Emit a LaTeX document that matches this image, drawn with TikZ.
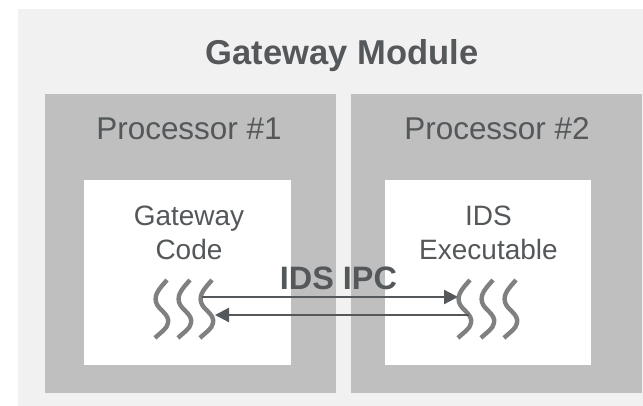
\documentclass[tikz,border=0pt]{standalone}
\usepackage{fontspec}
\setmainfont{Liberation Sans}
\usetikzlibrary{arrows.meta}
\definecolor{moduleback}{HTML}{F1F1F1}
\definecolor{procback}{HTML}{BFBFBF}
\definecolor{labeltext}{HTML}{54585A}
\definecolor{wavegray}{HTML}{808080}
\definecolor{ipcline}{HTML}{54585A}
\tikzset{
    box/.style={fill=#1, draw=none},
    wave/.style={wavegray, line width=3.3pt},
    ipc/.style={ipcline, line width=1.7pt, -{Triangle[length=10.5pt,width=10.5pt]}},
    proclabel/.style={text=labeltext, font=\fontsize{23.6}{28}\selectfont},
    codelabel/.style={text=labeltext, font=\fontsize{21}{25.3}\selectfont, align=center},
    boldlabel/.style={text=labeltext, font=\bfseries\fontsize{#1}{30}\selectfont}
}
\begin{document}
\begin{tikzpicture}[line cap=butt, line join=round, x=0.75pt, y=-0.75pt]

    \useasboundingbox (0,0) rectangle (643,406);

    \fill[box=moduleback] (18,9) rectangle (643,406);
    \fill[box=procback] (45,94) rectangle (336,393);
    \fill[box=procback] (351,94) rectangle (642,393);
    \fill[box=white] (84,180) rectangle (291,365);
    \fill[box=white] (385,180) rectangle (591,365);

    \node[boldlabel=25.9] (module) at (342,56) {Gateway Module};
    \node[proclabel] (proc1) at (189,129) {Processor \#1};
    \node[proclabel] (proc2) at (497,129) {Processor \#2};
    \node[codelabel] (code1) at (189,233) {Gateway\\Code};
    \node[codelabel] (code2) at (488.5,233) {IDS\\Executable};

    % threads on each processor
    \foreach \x in {155,178,200,458,481,504} {
        \draw[wave, shift={(\x,0)}] (12,280) .. controls (5,288) and (-1,294) .. (1,302) .. controls (3,310) and (15,314) .. (13,323) .. controls (12,329) and (6,332) .. (0,338);
    }

    \coordinate (left top) at (202,297);
    \coordinate (right top) at (458,297);
    \coordinate (right low) at (469,315);
    \coordinate (left low) at (215,315);

    \draw[ipc] (left top) -- (right top);
    \draw[ipc] (right low) -- (left low);

    \node[boldlabel=24.3] (ipclabel) at (338.5,278) {IDS IPC};

\end{tikzpicture}
\end{document}
